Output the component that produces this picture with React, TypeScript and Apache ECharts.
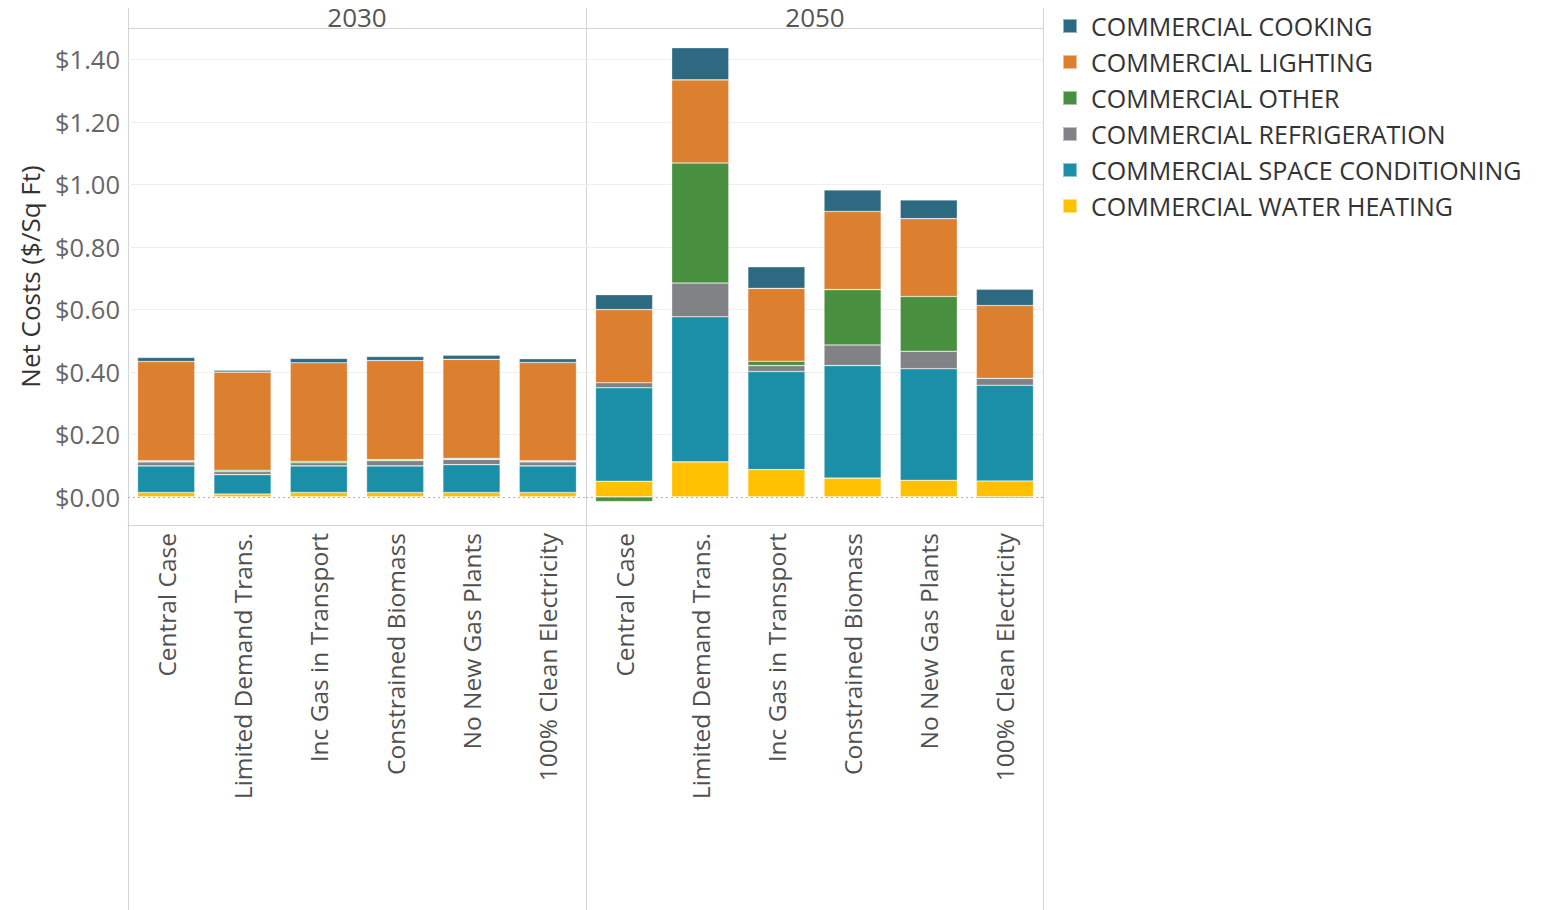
import React, { useEffect, useRef } from "react";
import * as echarts from "echarts";

const categories = [
  "Central Case",
  "Limited Demand Trans.",
  "Inc Gas in Transport",
  "Constrained Biomass",
  "No New Gas Plants",
  "100% Clean Electricity",
];
const years = ["2030", "2050"];
const legendOrder = [
  "COMMERCIAL COOKING",
  "COMMERCIAL LIGHTING",
  "COMMERCIAL OTHER",
  "COMMERCIAL REFRIGERATION",
  "COMMERCIAL SPACE CONDITIONING",
  "COMMERCIAL WATER HEATING",
];
const yTicks = [0, 0.2, 0.4, 0.6, 0.8, 1.0, 1.2, 1.4];

// 2030 values ($/sq ft)
const waterHeating2030 = [0.014, 0.009, 0.014, 0.014, 0.014, 0.014];
const spaceCond2030 = [0.085, 0.062, 0.085, 0.085, 0.089, 0.085];
const refrigeration2030 = [0.013, 0.010, 0.010, 0.017, 0.017, 0.013];
const other2030 = [0.003, 0.004, 0.004, 0.003, 0.003, 0.003];
const lighting2030 = [0.318, 0.314, 0.316, 0.317, 0.317, 0.315];
const cooking2030 = [0.013, 0.006, 0.014, 0.013, 0.013, 0.012];

// 2050 values ($/sq ft)
const waterHeating2050 = [0.050, 0.112, 0.087, 0.060, 0.053, 0.051];
const spaceCond2050 = [0.299, 0.464, 0.314, 0.360, 0.357, 0.306];
const refrigeration2050 = [0.016, 0.108, 0.019, 0.066, 0.056, 0.022];
const other2050 = [-0.015, 0.384, 0.014, 0.177, 0.175, -0.004];
const lighting2050 = [0.234, 0.266, 0.233, 0.250, 0.249, 0.233];
const cooking2050 = [0.048, 0.103, 0.069, 0.069, 0.060, 0.052];

const colors: Record<string, string> = {
  "COMMERCIAL COOKING": "#2d6a82",
  "COMMERCIAL LIGHTING": "#dc7f2f",
  "COMMERCIAL OTHER": "#488f3f",
  "COMMERCIAL REFRIGERATION": "#818286",
  "COMMERCIAL SPACE CONDITIONING": "#1a8fa7",
  "COMMERCIAL WATER HEATING": "#ffc000",
};

const FONT = "'Open Sans', sans-serif";

export default function App() {
  const ref = useRef<HTMLDivElement>(null);
  useEffect(() => {
    if (!ref.current) return;
    const chart = echarts.init(ref.current, null, { renderer: "svg" });

    const stackOrder: [string, number[], number[]][] = [
      ["COMMERCIAL WATER HEATING", waterHeating2030, waterHeating2050],
      ["COMMERCIAL SPACE CONDITIONING", spaceCond2030, spaceCond2050],
      ["COMMERCIAL REFRIGERATION", refrigeration2030, refrigeration2050],
      ["COMMERCIAL OTHER", other2030, other2050],
      ["COMMERCIAL LIGHTING", lighting2030, lighting2050],
      ["COMMERCIAL COOKING", cooking2030, cooking2050],
    ];

    const series: any[] = [];
    [0, 1].forEach((g) => {
      stackOrder.forEach(([name, d30, d50], i) => {
        const s: any = {
          name,
          type: "bar",
          xAxisIndex: g,
          yAxisIndex: g,
          stack: "s" + g,
          barWidth: "75%",
          data: g === 0 ? d30 : d50,
          itemStyle: {
            color: colors[name],
            borderColor: "rgba(255,255,255,0.5)",
            borderWidth: 0.6,
          },
          emphasis: { disabled: true },
        };
        if (i === 0) {
          s.markLine = {
            silent: true,
            symbol: "none",
            label: { show: false },
            z: 0,
            data: yTicks.map((v) => ({
              yAxis: v,
              lineStyle:
                v === 0
                  ? { color: "#b0b0b0", type: [2, 3], width: 1 }
                  : { color: "#efefef", type: "solid", width: 1 },
            })),
          };
        }
        series.push(s);
      });
    });

    const gridTop = 28;
    const gridHeight = 497;
    const yAxisBase = {
      type: "value",
      min: -0.09,
      max: 1.5,
      splitLine: { show: false },
      axisLine: { show: false },
      axisTick: { show: false },
    };

    chart.setOption({
      animation: false,
      backgroundColor: "#ffffff",
      textStyle: { fontFamily: FONT },
      grid: [
        { left: 128, top: gridTop, width: 458, height: gridHeight },
        { left: 586, top: gridTop, width: 457, height: gridHeight },
      ],
      xAxis: [0, 1].map((g) => ({
        type: "category",
        gridIndex: g,
        data: categories,
        axisLine: { show: true, onZero: false, lineStyle: { color: "#d4d4d4" } },
        axisTick: { show: false },
        axisLabel: {
          interval: 0,
          rotate: 90,
          margin: 8,
          fontSize: 24.5,
          color: "#505050",
          fontFamily: FONT,
        },
      })),
      yAxis: [
        {
          ...yAxisBase,
          gridIndex: 0,
          name: "Net Costs ($/Sq Ft)",
          nameLocation: "middle",
          nameRotate: 90,
          nameGap: 85,
          nameTextStyle: { fontSize: 26, color: "#333", fontFamily: FONT },
          axisLabel: {
            show: true,
            margin: 8,
            fontSize: 25.5,
            color: "#666",
            fontFamily: FONT,
            customValues: yTicks,
            formatter: (v: number) => "$" + v.toFixed(2),
          },
        },
        { ...yAxisBase, gridIndex: 1, axisLabel: { show: false } },
      ],
      legend: {
        data: legendOrder,
        orient: "vertical",
        left: 1062,
        top: 13,
        padding: 0,
        itemWidth: 14,
        itemHeight: 14,
        itemGap: 10,
        icon: "rect",
        selectedMode: false,
        textStyle: {
          fontSize: 25,
          lineHeight: 26,
          color: "#333",
          fontFamily: FONT,
          padding: [0, 0, 0, 9],
        },
      },
      graphic: [
        { type: "line", shape: { x1: 128.5, y1: 8, x2: 128.5, y2: 910 }, style: { stroke: "#d4d4d4", lineWidth: 1 }, silent: true },
        { type: "line", shape: { x1: 586.5, y1: 8, x2: 586.5, y2: 910 }, style: { stroke: "#d4d4d4", lineWidth: 1 }, silent: true },
        { type: "line", shape: { x1: 1043.5, y1: 8, x2: 1043.5, y2: 910 }, style: { stroke: "#d4d4d4", lineWidth: 1 }, silent: true },
        { type: "line", shape: { x1: 128, y1: 28.5, x2: 1044, y2: 28.5 }, style: { stroke: "#d4d4d4", lineWidth: 1 }, silent: true },
        {
          type: "text",
          x: 357,
          y: 17,
          style: { text: years[0], fontSize: 26, fill: "#555", fontFamily: FONT, align: "center", verticalAlign: "middle" },
        },
        {
          type: "text",
          x: 815,
          y: 17,
          style: { text: years[1], fontSize: 26, fill: "#555", fontFamily: FONT, align: "center", verticalAlign: "middle" },
        },
      ],
      series,
    });
    return () => chart.dispose();
  }, []);

  return (
    <div
      ref={ref}
      style={{ position: "fixed", left: 0, top: 0, width: 1542, height: 910 }}
    />
  );
}
